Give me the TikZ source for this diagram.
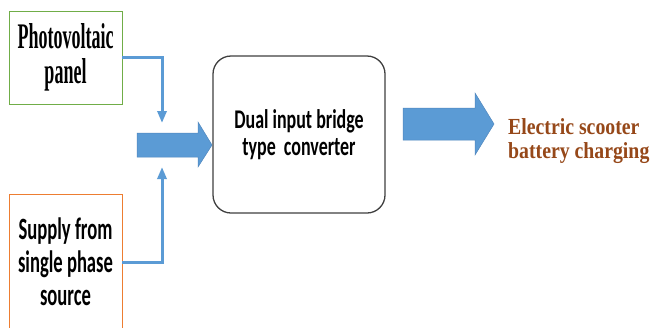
\documentclass[tikz,border=0pt]{standalone}
\usepackage{fontspec}
\setmainfont{Liberation Serif}
\newfontfamily\pvfont[FakeStretch=0.5,BoldFont={Liberation Serif Bold}]{Liberation Serif}
\newfontfamily\calfont[FakeStretch=0.6]{Carlito}
\newfontfamily\convfont[FakeStretch=0.665]{Carlito}
\newfontfamily\outfont[FakeStretch=0.86]{Liberation Serif}
\usetikzlibrary{arrows.meta}
\definecolor{pvgreen}{RGB}{112,173,71}
\definecolor{suporange}{RGB}{237,125,49}
\definecolor{lineblue}{RGB}{91,155,213}
\definecolor{arrowedge}{RGB}{80,135,190}
\definecolor{boxgray}{RGB}{64,64,64}
\definecolor{scooterbrown}{RGB}{150,72,25}
\tikzset{
  srcbox/.style={draw, line width=0.8pt, fill=white, inner sep=0pt, align=center},
  conn/.style={draw=lineblue, line width=3pt, -{Triangle[width=9pt,length=12pt]}},
  bigarrow/.style={fill=lineblue, draw=arrowedge, line width=0.5pt},
}
\begin{document}
\begin{tikzpicture}[x=1pt,y=-1pt]
\useasboundingbox (0,0) rectangle (650,327);
\clip (0,0) rectangle (650,327);
\fill[white] (0,0) rectangle (650,327);

\node[srcbox, draw=pvgreen, minimum width=113pt, minimum height=93pt,
      font=\pvfont\bfseries\fontsize{36}{35}\selectfont] (pv) at (65.5,57.5) {Photovoltaic\\panel};
\node[srcbox, draw=suporange, minimum width=113pt, minimum height=136pt,
      font=\calfont\bfseries\fontsize{31}{33}\selectfont] (sup) at (65.5,262) {Supply from\\single phase\\source};
\node[draw=boxgray, line width=1.3pt, rounded corners=18pt, minimum width=172pt, minimum height=157pt,
      align=center, inner sep=0pt, font=\convfont\bfseries\fontsize{27}{27}\selectfont] (conv) at (299,134.5) {Dual input bridge\\type~~converter};

\coordinate (pvin) at (162,123);
\coordinate (supin) at (162,167);
\draw[conn] (pv.east) -| (pvin);
\draw[conn] (sup.east) -| (supin);

\fill[bigarrow] (137,133) -- (198,133) -- (198,122) -- (212,145) -- (198,167) -- (198,157) -- (137,157) -- cycle;
\fill[bigarrow] (403,108) -- (475,108) -- (475,93) -- (494,124) -- (475,155) -- (475,140) -- (403,140) -- cycle;

\node[anchor=west, align=left, inner sep=0pt, text=scooterbrown,
      font=\outfont\bfseries\fontsize{23}{24}\selectfont] (out) at (508,141) {Electric scooter\\battery charging};
\end{tikzpicture}
\end{document}
